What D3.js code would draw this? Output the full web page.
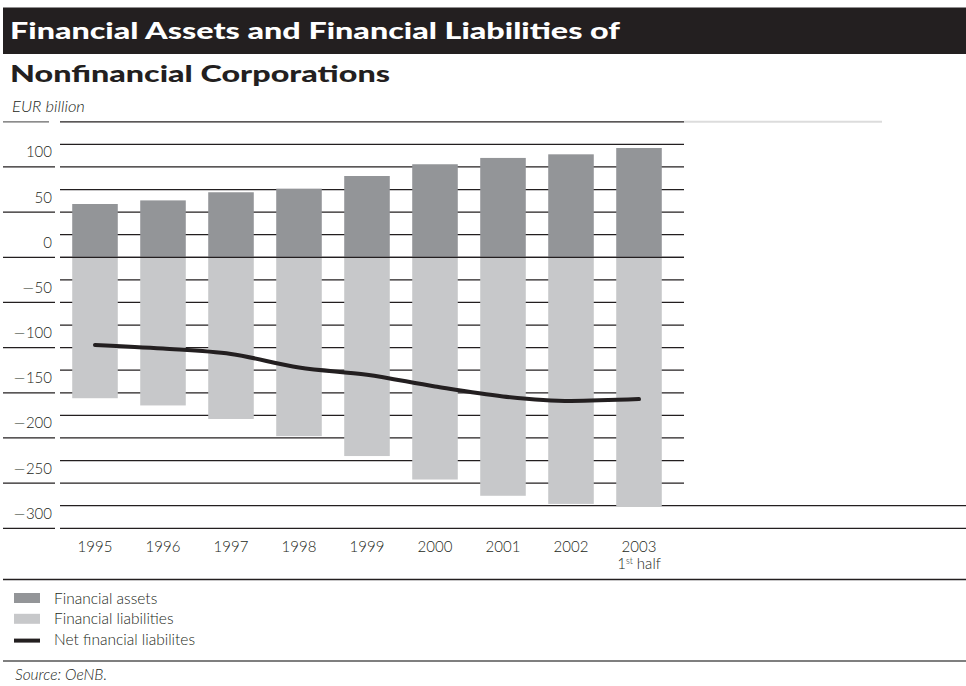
<!DOCTYPE html>
<html>
<head>
<meta charset="utf-8">
<script src="https://cdn.jsdelivr.net/npm/d3@7"></script>
<style>
  html, body { margin: 0; padding: 0; background: #fff; }
  svg { display: block; }
  .lbl { font-family: Lato, "Open Sans", sans-serif; font-weight: 300; fill: #231f20; }
</style>
</head>
<body>
<svg id="chart" width="966" height="686"></svg>
<script>
// Financial assets / liabilities of nonfinancial corporations, EUR billion
const years = ["1995", "1996", "1997", "1998", "1999", "2000", "2001", "2002", "2003"];
const yearSub = ["", "", "", "", "", "", "", "", "1st half"];
const assets = [59, 63, 72, 76, 90, 103, 110, 114, 121];
const liabilities = [-156, -164, -179, -198, -220, -246, -264, -273, -276];
const netLiabilities = [-97, -101, -107, -122, -130, -143, -154, -159, -157];
const gridValues = d3.range(150, -301, -25);
const tickLabels = [100, 50, 0, -50, -100, -150, -200, -250, -300];

const ink = "#231f20";
const colAssets = "#939598";
const colLiab = "#c7c8ca";

const svg = d3.select("#chart");

// Title band
svg.append("rect").attr("x", 3).attr("y", 7.5).attr("width", 963).attr("height", 46.5).attr("fill", ink);
svg.append("text")
  .attr("x", 10).attr("y", 38.5)
  .attr("textLength", 610).attr("lengthAdjust", "spacingAndGlyphs")
  .style("font-family", "Lato, 'DejaVu Sans', sans-serif")
  .style("font-weight", 900).style("font-size", "22px").attr("fill", "#fff")
  .text("Financial Assets and Financial Liabilities of");
svg.append("text")
  .attr("x", 10).attr("y", 82)
  .attr("textLength", 380).attr("lengthAdjust", "spacingAndGlyphs")
  .style("font-family", "Lato, 'DejaVu Sans', sans-serif")
  .style("font-weight", 900).style("font-size", "22px").attr("fill", ink)
  .text("Nonfinancial Corporations");
svg.append("text").attr("class", "lbl")
  .attr("x", 12).attr("y", 111.5)
  .style("font-size", "16.5px").style("font-style", "italic")
  .text("EUR billion");

// Scales
const x = d3.scaleBand().domain(years).range([61, 673]).paddingInner(0.33).paddingOuter(0.165);
const y = d3.scaleLinear().domain([-300, 150]).range([528.3, 121.8]);

// Gridlines
const grid = svg.append("g");
gridValues.forEach(v => {
  const yy = y(v);
  const wide = v <= -275;
  grid.append("line")
    .attr("x1", 60).attr("x2", wide ? 966 : 684)
    .attr("y1", yy).attr("y2", yy)
    .attr("stroke", ink).attr("stroke-width", 1.3);
  if (v % 50 === 0) {
    grid.append("line")
      .attr("x1", 3).attr("x2", v === 150 ? 49 : 55)
      .attr("y1", yy).attr("y2", yy)
      .attr("stroke", v === 150 ? "#666" : ink).attr("stroke-width", 1.3);
  }
});
grid.append("line")
  .attr("x1", 684).attr("x2", 882).attr("y1", y(150)).attr("y2", y(150))
  .attr("stroke", "#dcdcdc").attr("stroke-width", 2);

// Y labels sit just above their gridline; the minus sign is a wide dash
const yl = svg.append("g").selectAll("text").data(tickLabels).join("text")
  .attr("class", "lbl")
  .attr("x", 52).attr("y", d => y(d) - 9.5)
  .attr("text-anchor", "end").style("font-size", "15px");
yl.filter(d => d < 0).append("tspan")
  .style("font-family", "'DejaVu Sans', sans-serif").style("font-weight", 200)
  .text("\u2212");
yl.append("tspan").text(d => Math.abs(d));

// Bars
const bars = svg.append("g");
bars.selectAll("rect.a").data(assets).join("rect").attr("class", "a")
  .attr("x", (d, i) => x(years[i])).attr("width", x.bandwidth())
  .attr("y", d => y(d)).attr("height", d => y(0) - y(d))
  .attr("fill", colAssets);
bars.selectAll("rect.l").data(liabilities).join("rect").attr("class", "l")
  .attr("x", (d, i) => x(years[i])).attr("width", x.bandwidth())
  .attr("y", y(0)).attr("height", d => y(d) - y(0))
  .attr("fill", colLiab);

// Zero line over the bars
svg.append("line")
  .attr("x1", 60).attr("x2", 684).attr("y1", y(0)).attr("y2", y(0))
  .attr("stroke", ink).attr("stroke-width", 1.3);

// Net financial liabilities
const line = d3.line()
  .x((d, i) => x(years[i]) + x.bandwidth() / 2)
  .y(d => y(d))
  .curve(d3.curveMonotoneX);
svg.append("path").datum(netLiabilities)
  .attr("d", line).attr("fill", "none")
  .attr("stroke", ink).attr("stroke-width", 4).attr("stroke-linecap", "round");

// X labels
const xl = svg.append("g");
years.forEach((yr, i) => {
  const cx = x(yr) + x.bandwidth() / 2;
  xl.append("text").attr("class", "lbl")
    .attr("x", cx).attr("y", 551.5).attr("text-anchor", "middle")
    .style("font-size", "15px").text(yr);
  if (yearSub[i]) {
    const t = xl.append("text").attr("class", "lbl")
      .attr("x", cx).attr("y", 568.5).attr("text-anchor", "middle")
      .style("font-size", "15px");
    t.append("tspan").text("1");
    t.append("tspan").attr("dy", -5).style("font-size", "9px").text("st");
    t.append("tspan").attr("dy", 5).text(" half");
  }
});

// Separators
[579.5, 661].forEach(yy => {
  svg.append("line").attr("x1", 3).attr("x2", 966).attr("y1", yy).attr("y2", yy)
    .attr("stroke", yy > 600 ? "#555" : ink).attr("stroke-width", 1.4);
});

// Legend
const legend = [
  { label: "Financial assets", type: "rect", color: colAssets },
  { label: "Financial liabilities", type: "rect", color: colLiab },
  { label: "Net financial liabilites", type: "line", color: ink }
];
legend.forEach((d, i) => {
  const base = 603.5 + i * 20.8;
  if (d.type === "rect") {
    svg.append("rect").attr("x", 14).attr("y", base - 10.5).attr("width", 26).attr("height", 10)
      .attr("fill", d.color);
  } else {
    svg.append("rect").attr("x", 14).attr("y", base - 6.5).attr("width", 26).attr("height", 4)
      .attr("fill", d.color);
  }
  svg.append("text").attr("class", "lbl")
    .attr("x", 54).attr("y", base).style("font-size", "15.5px").text(d.label);
});

// Source
svg.append("text").attr("class", "lbl")
  .attr("x", 15).attr("y", 680).style("font-size", "15.5px").style("font-style", "italic")
  .text("Source: OeNB.");
</script>
</body>
</html>
